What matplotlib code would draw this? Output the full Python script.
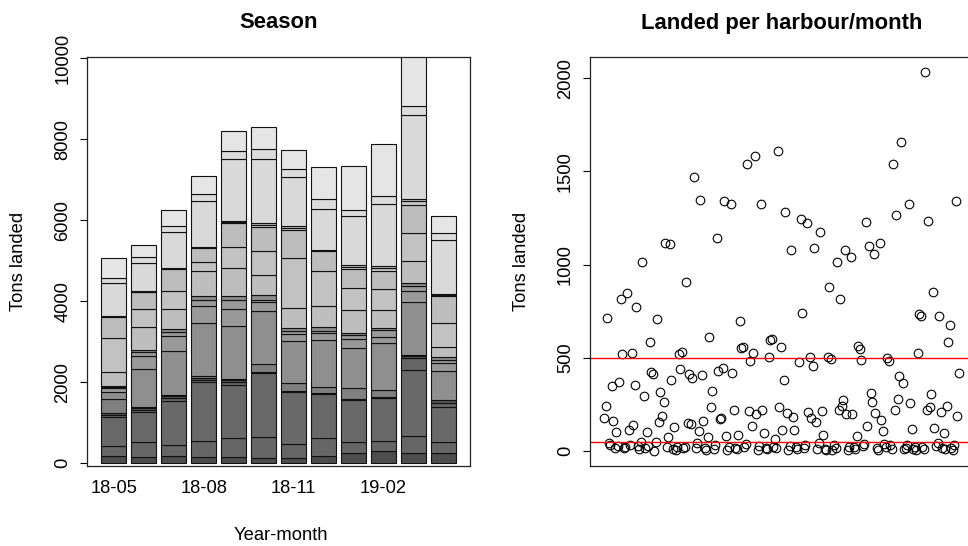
import matplotlib
matplotlib.use("Agg")
import matplotlib.pyplot as plt
import numpy as np

plt.rcParams['font.family'] = ['Liberation Sans', 'DejaVu Sans']

# ---------------- data ----------------
months = ["18-05", "18-06", "18-07", "18-08", "18-09", "18-10",
          "18-11", "18-12", "19-01", "19-02", "19-03", "19-04"]

# harbours stacked bottom -> top (tons landed per month)
h01 = [189, 148, 189, 148, 148, 132, 132, 189, 255, 313, 255, 247]
h02 = [247, 370, 263, 395, 477, 527, 346, 436, 263, 247, 428, 272]
h03 = [700, 741, 1095, 1457, 1317, 1564, 1276, 1086, 1045, 1045, 1621, 881]
h04 = [50, 50, 62, 55, 62, 20, 20, 15, 15, 15, 300, 100]
h05 = [49, 49, 61, 52, 61, 15, 15, 10, 10, 10, 54, 65]
h06 = [354, 20, 15, 58, 15, 190, 187, 140, 263, 189, 10, 10]
h07 = [165, 951, 1080, 1292, 1302, 1317, 1053, 1177, 996, 1144, 1310, 714]
h08 = [99, 329, 379, 420, 428, 206, 165, 156, 222, 165, 272, 181]
h09 = [25, 90, 100, 165, 222, 58, 66, 66, 90, 165, 123, 82]
h10 = [24, 50, 65, 82, 100, 123, 82, 82, 66, 49, 82, 82]
h11 = [346, 576, 502, 617, 683, 486, 486, 519, 560, 444, 535, 247]
h12 = [848, 428, 453, 239, 535, 593, 1243, 881, 543, 519, 700, 576]
h13 = [519, 420, 535, 337, 593, 593, 700, 477, 469, 453, 700, 683]
h14 = [15, 15, 15, 15, 15, 60, 45, 25, 60, 70, 80, 25]
h15 = [10, 15, 10, 10, 15, 39, 37, 16, 47, 53, 60, 16]
h16 = [815, 686, 880, 1144, 1539, 1580, 1210, 1004, 1193, 1523, 2070, 1333]
h17 = [123, 148, 148, 165, 206, 247, 206, 247, 156, 206, 222, 165]
h18 = [494, 305, 412, 436, 477, 560, 469, 782, 1095, 1276, 1250, 420]

harbour_series = [h01, h02, h03, h04, h05, h06, h07, h08, h09,
                  h10, h11, h12, h13, h14, h15, h16, h17, h18]
harbour_colors = ["#4d4d4d", "#666666", "#696969", "#666666", "#5a5a5a",
                  "#808080", "#8f8f8f", "#999999", "#999999", "#8c8c8c",
                  "#bebebe", "#c2c2c2", "#bdbdbd", "#c8c8c8", "#bebebe",
                  "#d9d9d9", "#dcdcdc", "#e5e5e5"]

# landed per harbour/month, in plotting order
landed = [
    178, 243, 713, 45, 30, 348, 160, 15, 103, 25, 371, 815, 519, 15, 20, 847,
    110, 30, 526, 139, 353, 770, 25, 10, 48, 1014, 294, 15, 103, 25, 583, 423,
    412, 0, 48, 706, 155, 316, 187, 264, 1117, 20, 76, 1110, 378, 10, 128, 5,
    20, 519, 437, 532, 15,
    20, 905, 148, 415, 142, 392, 1471, 15, 40, 105, 1348, 410, 160, 15, 5, 76,
    610, 237, 321, 10, 30, 1143, 428, 173, 175, 446, 1342, 78, 5, 20, 1328, 419,
    219, 15, 8, 83, 699, 551, 556, 20, 35, 1540, 214, 480, 133, 526, 1585, 200,
    5, 25, 1328, 219, 98, 15, 10, 503, 598, 602, 20, 62, 15, 1612, 237, 558,
    112, 378, 1285,
    201, 5, 25, 1078, 180, 112, 20, 10, 476, 1246, 739, 15, 30, 1221, 208, 505,
    178, 458, 1091, 155, 10, 40, 1175, 212, 83, 10, 5, 505, 880, 496, 5, 30,
    15, 1014, 219, 816, 241, 275, 1078, 200, 5, 20, 1039, 200, 20, 10, 80, 562,
    547, 487, 25, 35, 1228, 133, 1098, 310, 264, 1055, 205, 15, 5, 1118, 166,
    105, 35, 20, 500, 482, 30, 10, 1541, 219, 1266, 276, 400, 1657, 362, 8, 15,
    30, 1323, 258, 116, 12, 20, 5, 523, 734, 726, 20, 10, 2035, 219, 1233, 237,
    303, 855, 123, 25, 40, 724, 208, 18, 98, 10, 242, 585, 674, 15, 5, 30,
    1341, 187, 418,
]
ref_lines = [500, 50]

# ---------------- figure ----------------
W, H = 968, 546
fig = plt.figure(figsize=(W / 100, H / 100), dpi=100)

def px_axes(l, t, r, b):
    return fig.add_axes([l / W, 1 - b / H, (r - l) / W, (b - t) / H])

FS = 13.2
TFS = 15.8
tick_len = 5.0

# ---- left: stacked bars ----
ax1 = px_axes(87.3, 56.7, 470, 466)
xpos = 0.7 + 1.2 * np.arange(len(months))
bottom = np.zeros(len(months))
for vals, col in zip(harbour_series, harbour_colors):
    v = np.array(vals, dtype=float)
    ax1.bar(xpos, v, width=1.0, bottom=bottom, color=col,
            edgecolor="#111111", linewidth=0.8)
    bottom += v
ax1.set_xlim(-0.368, 14.968)
ax1.set_ylim(-67, 10040)
ax1.set_xticks(xpos[::3])
ax1.set_xticklabels(months[::3])
ax1.tick_params(axis='x', length=0, pad=10, labelsize=FS)
ax1.set_yticks(np.arange(0, 10001, 2000))
ax1.tick_params(axis='y', length=tick_len, width=0.8, pad=6.5, labelsize=FS,
                labelrotation=90)
for lab in ax1.get_yticklabels():
    lab.set_va('center')
for s in ax1.spines.values():
    s.set_linewidth(0.9)
    s.set_color("#222222")

# ---- right: scatter ----
ax2 = px_axes(590, 56.7, 973, 466)
n = len(landed)
idx = np.arange(1, n + 1)
ax2.plot(idx, landed, linestyle='none', marker='o', mfc='none', mec='black',
         ms=6.2, mew=0.8)
for yv in ref_lines:
    ax2.axhline(yv, color='red', lw=1.0)
ax2.set_xlim(1 - 0.04 * (n - 1), n + 0.04 * (n - 1))
ax2.set_ylim(-81, 2116)
ax2.set_xticks([])
ax2.set_yticks(np.arange(0, 2001, 500))
ax2.tick_params(axis='y', length=tick_len, width=0.8, pad=6.5, labelsize=FS,
                labelrotation=90)
for lab in ax2.get_yticklabels():
    lab.set_va('center')
for s in ax2.spines.values():
    s.set_linewidth(0.9)
    s.set_color("#222222")

# ---- texts ----
fig.text(278.6 / W, 1 - 23 / H, "Season", ha='center', va='center',
         fontsize=TFS, fontweight='bold')
fig.text(781.5 / W, 1 - 23 / H, "Landed per harbour/month", ha='center',
         va='center', fontsize=TFS, fontweight='bold')
fig.text(280.8 / W, 1 - 536 / H, "Year-month", ha='center', va='center',
         fontsize=FS)
fig.text(19 / W, 1 - 261 / H, "Tons landed", ha='center', va='center',
         rotation=90, fontsize=FS)
fig.text(522 / W, 1 - 261 / H, "Tons landed", ha='center', va='center',
         rotation=90, fontsize=FS)

fig.savefig("out.png", dpi=100)
